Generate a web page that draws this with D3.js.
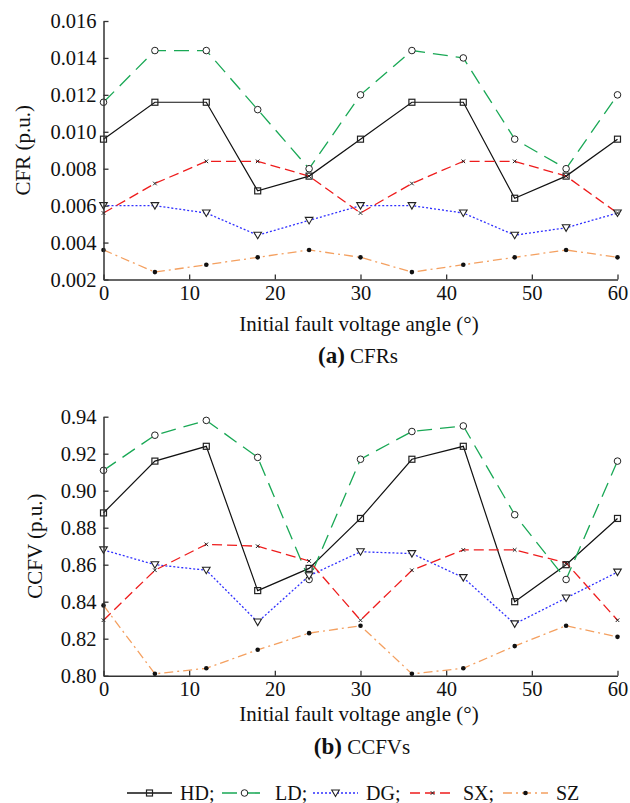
<!DOCTYPE html>
<html><head><meta charset="utf-8">
<script src="https://cdn.jsdelivr.net/npm/d3@7"></script>
<style>body{margin:0;background:#fff}svg{display:block}text{font-family:"Liberation Serif","Times New Roman",serif;fill:#111}</style>
</head><body><svg id="c" width="630" height="803"></svg>
<script>
const angles = [0,6,12,18,24,30,36,42,48,54,60];
const seriesNames = ["HD","LD","DG","SX","SZ"];
const cfrHD = [0.0096,0.0116,0.0116,0.0068,0.0076,0.0096,0.0116,0.0116,0.0064,0.0076,0.0096];
const cfrLD = [0.0116,0.0144,0.0144,0.0112,0.0080,0.0120,0.0144,0.0140,0.0096,0.0080,0.0120];
const cfrDG = [0.0060,0.0060,0.0056,0.0044,0.0052,0.0060,0.0060,0.0056,0.0044,0.0048,0.0056];
const cfrSX = [0.0056,0.0072,0.0084,0.0084,0.0076,0.0056,0.0072,0.0084,0.0084,0.0076,0.0056];
const cfrSZ = [0.0036,0.0024,0.0028,0.0032,0.0036,0.0032,0.0024,0.0028,0.0032,0.0036,0.0032];
const ccfvHD = [0.888,0.916,0.924,0.846,0.858,0.885,0.917,0.924,0.840,0.860,0.885];
const ccfvLD = [0.911,0.930,0.938,0.918,0.852,0.917,0.932,0.935,0.887,0.852,0.916];
const ccfvDG = [0.868,0.860,0.857,0.829,0.854,0.867,0.866,0.853,0.828,0.842,0.856];
const ccfvSX = [0.830,0.857,0.871,0.870,0.862,0.830,0.857,0.868,0.868,0.861,0.830];
const ccfvSZ = [0.838,0.801,0.804,0.814,0.823,0.827,0.801,0.804,0.816,0.827,0.821];
const xTicks = [0,10,20,30,40,50,60];
const cfrTicks = [0.002,0.004,0.006,0.008,0.010,0.012,0.014,0.016];
const ccfvTicks = [0.80,0.82,0.84,0.86,0.88,0.90,0.92,0.94];

const styles = {
  HD:{color:"#111",dash:null,width:1.2,marker:"square"},
  LD:{color:"#19a855",dash:"15,8",width:1.3,marker:"circle"},
  DG:{color:"#3030ff",dash:"2,2",width:1.3,marker:"tri"},
  SX:{color:"#ee1c1c",dash:"10,5",width:1.3,marker:"x"},
  SZ:{color:"#f4a060",dash:"9,4,2,4",width:1.3,marker:"dot"}
};

const svg = d3.select("#c");

function drawMarker(g, type, x, y){
  if(type==="square") g.append("rect").attr("x",x-3).attr("y",y-3).attr("width",6).attr("height",6).attr("fill","none").attr("stroke","#222").attr("stroke-width",1.2);
  else if(type==="circle") g.append("circle").attr("cx",x).attr("cy",y).attr("r",3.3).attr("fill","#fff").attr("stroke","#222").attr("stroke-width",1);
  else if(type==="tri") g.append("path").attr("d",`M${x-3.8},${y-3} L${x+3.8},${y-3} L${x},${y+3.5} Z`).attr("fill","#fff").attr("stroke","#222").attr("stroke-width",1.1);
  else if(type==="x") g.append("path").attr("d",`M${x-1.8},${y-1.8} L${x+1.8},${y+1.8} M${x-1.8},${y+1.8} L${x+1.8},${y-1.8}`).attr("stroke","#222").attr("stroke-width",1);
  else if(type==="dot") g.append("circle").attr("cx",x).attr("cy",y).attr("r",2.3).attr("fill","#111");
}

function panel(cfg){
  const x = d3.scaleLinear().domain([0,60]).range([103.5,617.5]);
  const y = d3.scaleLinear().domain(cfg.domain).range([cfg.bottom,cfg.top]);
  const g = svg.append("g");
  cfg.data.forEach((vals,i)=>{
    const st = styles[seriesNames[i]];
    const line = d3.line().x((d,j)=>x(angles[j])).y(d=>y(d));
    g.append("path").datum(vals).attr("d",line).attr("fill","none").attr("stroke",st.color)
      .attr("stroke-width",st.width).attr("stroke-dasharray",st.dash);
  });
  cfg.data.forEach((vals,i)=>{
    const st = styles[seriesNames[i]];
    vals.forEach((v,j)=>drawMarker(g,st.marker,x(angles[j]),y(v)));
  });
  const xa = d3.axisBottom(x).tickValues(xTicks).tickSizeInner(-5).tickSizeOuter(0).tickPadding(6).tickFormat(d3.format("d"));
  const gx = svg.append("g").attr("transform",`translate(0,${cfg.bottom})`).call(xa);
  const ya = d3.axisLeft(y).tickValues(cfg.ticks).tickSizeInner(-5).tickSizeOuter(0).tickPadding(7).tickFormat(cfg.fmt);
  const gy = svg.append("g").attr("transform",`translate(103.5,0)`).call(ya);
  [gx,gy].forEach(a=>{
    a.select(".domain").attr("stroke","#333").attr("stroke-width",1.5);
    a.selectAll(".tick line").attr("stroke","#333").attr("stroke-width",1.3);
    a.selectAll(".tick text").style("font-family","'Liberation Serif',serif").style("font-size","20.5px").attr("fill","#111");
  });
  svg.append("text").attr("x",359).attr("y",cfg.bottom+cfg.tOff).attr("text-anchor","middle").style("font-size","21px").text("Initial fault voltage angle (°)");
  svg.append("text").attr("transform",`translate(${cfg.ylx},${(cfg.top+cfg.bottom)/2}) rotate(-90)`).attr("text-anchor","middle").style("font-size","21px").text(cfg.ylabel);
  const cap = svg.append("text").attr("x",cfg.capx).attr("y",cfg.bottom+cfg.cOff).attr("text-anchor","middle").style("font-size","21px");
  cap.append("tspan").style("font-weight","bold").style("font-size","23px").text(cfg.capA);
  cap.append("tspan").text(" "+cfg.capB);
}

panel({domain:[0.002,0.016],top:21,bottom:279.5,ticks:cfrTicks,fmt:d3.format(".3f"),data:[cfrHD,cfrLD,cfrDG,cfrSX,cfrSZ],ylabel:"CFR (p.u.)",ylx:30,capA:"(a)",capB:"CFRs",capx:358,tOff:51,cOff:83});
panel({domain:[0.80,0.94],top:416.7,bottom:675.7,ticks:ccfvTicks,fmt:d3.format(".2f"),data:[ccfvHD,ccfvLD,ccfvDG,ccfvSX,ccfvSZ],ylabel:"CCFV (p.u.)",ylx:42,capA:"(b)",capB:"CCFVs",capx:362,tOff:45,cOff:78});

const legX = [127,222,313,410,503];
const legLabels = ["HD;","LD;","DG;","SX;","SZ"];
const ly = 796;
const lg = svg.append("g");
seriesNames.forEach((s,i)=>{
  const st = styles[s];
  const x0 = legX[i];
  lg.append("line").attr("x1",x0).attr("x2",x0+45).attr("y1",ly-3).attr("y2",ly-3).attr("stroke",st.color).attr("stroke-width",st.width+0.3).attr("stroke-dasharray",st.dash);
  drawMarker(lg,st.marker,x0+22.5,ly-3);
  lg.append("text").attr("x",x0+53).attr("y",ly+4).style("font-size","20px").text(legLabels[i]);
});
</script></body></html>
